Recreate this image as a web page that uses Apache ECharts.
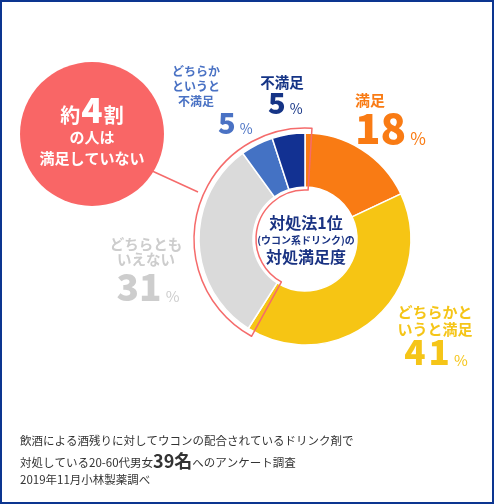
<!DOCTYPE html>
<html>
<head>
<meta charset="utf-8">
<script src="https://cdn.jsdelivr.net/npm/echarts@6/dist/echarts.min.js"></script>
<style>
  html, body { margin: 0; padding: 0; background: #fff; }
  #chart { width: 494px; height: 504px; }
</style>
</head>
<body>
<div id="chart"></div>
<script>
// 回答項目と割合(%)
const categories = ['満足', 'どちらかというと満足', 'どちらともいえない', 'どちらかというと不満足', '不満足']
const values = [18, 41, 31, 5, 5]
// ラベルの改行位置
const labelLines = [
  ['満足'],
  ['どちらかと', 'いうと満足'],
  ['どちらとも', 'いえない'],
  ['どちらか', 'というと', '不満足'],
  ['不満足']
]
const centerLines = ['対処法1位', '(ウコン系ドリンク)の', '対処満足度']
const calloutLines = ['約', '4', '割', 'の人は', '満足していない']
const footerLines = [
  '飲酒による酒残りに対してウコンの配合されているドリンク剤で',
  ['対処している20-60代男女', '39名', 'へのアンケート調査'],
  '2019年11月小林製薬調べ'
]

const FONT = "'Noto Sans CJK JP', 'Noto Sans', sans-serif"
const colors = ['#f97b14', '#f6c514', '#dadada', '#4472c4', '#123192']
const labelColors = ['#f97b14', '#f5c518', '#cdcdcd', '#4a72c4', '#153486']
const RED = '#f96666'

// 不満足側(どちらとも～不満足)の合計
const notSatisfied = values.slice(2).reduce((a, b) => a + b, 0)
const pad = 1 // 枠の余白(%)

// ラベル配置 (名前 / 数値)
const labelLayout = [
  { nx: 355, ny: 100, na: 'left', nsize: 15, nlh: 17, vx: 355, vy: 128, va: 'left', vsize: 42, psize: 17, ls: 0 },
  { nx: 435, ny: 321, na: 'center', nsize: 15, nlh: 17, vx: 436, vy: 352, va: 'center', vsize: 35, psize: 15, ls: 3 },
  { nx: 146, ny: 252, na: 'center', nsize: 14.5, nlh: 15, vx: 148, vy: 287, va: 'center', vsize: 37, psize: 15, ls: 0 },
  { nx: 196, ny: 86, na: 'center', nsize: 12, nlh: 15, vx: 218, vy: 123, va: 'left', vsize: 29, psize: 14, ls: 0 },
  { nx: 282, ny: 82, na: 'center', nsize: 14.5, nlh: 16, vx: 268, vy: 103, va: 'left', vsize: 29, psize: 14, ls: 0 }
]

const labelGraphics = []
categories.forEach((name, i) => {
  const l = labelLayout[i]
  labelGraphics.push({
    type: 'text',
    silent: true,
    style: {
      x: l.nx, y: l.ny,
      text: labelLines[i].join('\n'),
      align: l.na, verticalAlign: 'middle',
      fill: labelColors[i],
      font: `bold ${l.nsize}px ${FONT}`,
      lineHeight: l.nlh
    }
  })
  const digits = String(values[i]).split('')
  const valueText = digits.map((d, k) => `{${k < digits.length - 1 && l.ls ? 'vs' : 'v'}|${d}}`).join('') + '{p|%}'
  const vStyle = { fill: labelColors[i], fontFamily: FONT, fontWeight: 900, fontSize: l.vsize, verticalAlign: 'bottom', lineHeight: l.vsize }
  labelGraphics.push({
    type: 'text',
    silent: true,
    style: {
      x: l.vx, y: l.vy,
      text: valueText,
      align: l.va, verticalAlign: 'middle',
      rich: {
        v: vStyle,
        vs: Object.assign({}, vStyle, { padding: [0, l.ls, 0, 0] }),
        p: { fill: labelColors[i], fontFamily: FONT, fontWeight: 'normal', fontSize: l.psize, verticalAlign: 'bottom', padding: [0, 0, 2, 4], lineHeight: l.psize }
      }
    }
  })
})

const chart = echarts.init(document.getElementById('chart'))

const option = {
  animation: false,
  backgroundColor: '#fff',
  series: [
    {
      type: 'pie',
      center: [305, 239],
      radius: [52, 106],
      startAngle: 90,
      clockwise: true,
      silent: true,
      label: { show: false },
      labelLine: { show: false },
      itemStyle: { borderColor: '#fff', borderWidth: 1.5 },
      data: categories.map((name, i) => ({ name, value: values[i], itemStyle: { color: colors[i] } })),
      z: 2
    },
    {
      // 「満足していない」部分の赤枠
      type: 'pie',
      center: [305, 239],
      radius: [49, 111],
      startAngle: 90 - pad * 3.6,
      clockwise: true,
      silent: true,
      label: { show: false },
      labelLine: { show: false },
      data: [
        { value: 100 - notSatisfied - pad * 2, itemStyle: { color: 'rgba(0,0,0,0)', borderWidth: 0 } },
        { value: notSatisfied + pad * 2, itemStyle: { color: 'rgba(0,0,0,0)', borderColor: '#f56b6b', borderWidth: 1.5 } }
      ],
      z: 3
    }
  ],
  graphic: [
    // 外枠
    {
      type: 'rect', silent: true,
      shape: { x: 1, y: 1, width: 492, height: 502 },
      style: { fill: 'none', stroke: '#0c3590', lineWidth: 2 }
    },
    // 吹き出しの線
    {
      type: 'line', silent: true,
      shape: { x1: 150, y1: 170, x2: 198, y2: 192 },
      style: { stroke: '#f56b6b', lineWidth: 1.5 }
    },
    {
      type: 'circle', silent: true,
      shape: { cx: 92, cy: 134, r: 72 },
      style: { fill: RED }
    },
    {
      type: 'text', silent: true,
      style: {
        x: 92, y: 110, align: 'center', verticalAlign: 'middle',
        text: `{a|${calloutLines[0]}}{b|${calloutLines[1]}}{a|${calloutLines[2]}}`,
        rich: {
          a: { fill: '#fff', fontFamily: FONT, fontWeight: 'bold', fontSize: 20, verticalAlign: 'bottom', padding: [0, 0, 2, 0] },
          b: { fill: '#fff', fontFamily: FONT, fontWeight: 900, fontSize: 35, verticalAlign: 'bottom', padding: [0, 1, 0, 1] }
        }
      }
    },
    {
      type: 'text', silent: true,
      style: {
        x: 92, y: 137, align: 'center', verticalAlign: 'middle',
        text: calloutLines[3], fill: '#fff', font: `bold 15px ${FONT}`
      }
    },
    {
      type: 'text', silent: true,
      style: {
        x: 92, y: 158, align: 'center', verticalAlign: 'middle',
        text: calloutLines[4], fill: '#fff', font: `bold 15px ${FONT}`
      }
    },
    // 中央テキスト
    {
      type: 'text', silent: true,
      style: {
        x: 306, y: 223, align: 'center', verticalAlign: 'middle',
        text: centerLines[0], fill: '#1a3383', font: `bold 16px ${FONT}`
      }
    },
    {
      type: 'text', silent: true,
      style: {
        x: 306, y: 240, align: 'center', verticalAlign: 'middle',
        text: centerLines[1], fill: '#1a3383', font: `bold 10px ${FONT}`
      }
    },
    {
      type: 'text', silent: true,
      style: {
        x: 306, y: 257, align: 'center', verticalAlign: 'middle',
        text: centerLines[2], fill: '#1a3383', font: `bold 16px ${FONT}`
      }
    },
    // 注記
    {
      type: 'text', silent: true,
      style: {
        x: 20, y: 441, align: 'left', verticalAlign: 'middle',
        text: footerLines[0], fill: '#333', font: `11.5px ${FONT}`
      }
    },
    {
      type: 'text', silent: true,
      style: {
        x: 20, y: 461, align: 'left', verticalAlign: 'middle',
        text: `{n|${footerLines[1][0]}}{b|${footerLines[1][1]}}{n|${footerLines[1][2]}}`,
        rich: {
          n: { fill: '#333', fontFamily: FONT, fontSize: 11.5, verticalAlign: 'bottom', padding: [0, 0, 2, 0] },
          b: { fill: '#333', fontFamily: FONT, fontWeight: 'bold', fontSize: 18, verticalAlign: 'bottom' }
        }
      }
    },
    {
      type: 'text', silent: true,
      style: {
        x: 20, y: 480, align: 'left', verticalAlign: 'middle',
        text: footerLines[2], fill: '#333', font: `11.5px ${FONT}`
      }
    }
  ].concat(labelGraphics)
}

chart.setOption(option)
</script>
</body>
</html>
